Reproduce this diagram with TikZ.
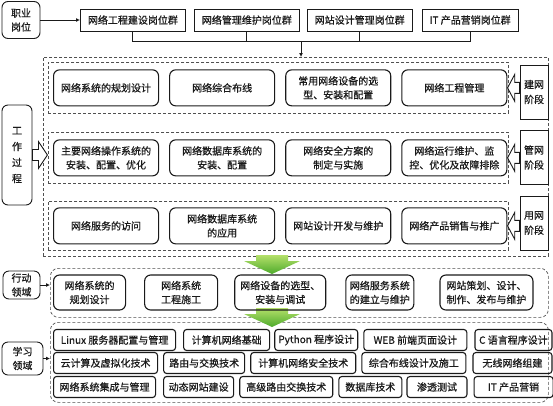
\documentclass[tikz,border=0pt]{standalone}
\usepackage{fontspec}
\setmainfont{Noto Sans CJK SC}[FakeBold=0.6]
\usetikzlibrary{positioning, arrows.meta, calc}
\definecolor{ink}{HTML}{1A1A1A}
\definecolor{dashgray}{HTML}{505050}
\definecolor{leaf}{HTML}{B4E06A}
\definecolor{grass}{HTML}{4DAA2B}
\newcommand{\hollowarrow}[3]{%
  \draw[hollow, shift={(#1)}, xscale=#2]
    (0,-5.5) -- ({0.4*#3},-5.5) -- ({0.4*#3},-13.5) -- (#3,0)
    -- ({0.4*#3},13.5) -- ({0.4*#3},5.5) -- (0,5.5) -- cycle;}
\newcommand{\greenarrow}[1]{%
  \shade[top color=leaf, bottom color=grass, shift={(#1)}]
    (-16,0) -- (16,0) -- (16,6) -- (28,6) -- (0,19) -- (-28,6) -- (-16,6) -- cycle;}

\begin{document}
\begin{tikzpicture}[
    x=1pt, y=-1pt,
    every node/.style={font=\fontsize{10}{14}\selectfont, text=ink, align=center},
    tag/.style={draw=ink, line width=0.9pt, rounded corners=6pt, inner sep=2pt},
    post/.style={draw=ink, line width=0.9pt, minimum height=22pt, inner sep=1pt},
    zone/.style={draw=dashgray, line width=0.7pt, dash pattern=on 3pt off 2pt},
    stage/.style={draw=ink, line width=0.9pt, minimum width=28pt, minimum height=54pt,
      inner sep=0pt, font=\fontsize{10}{15}\selectfont},
    task/.style={draw=ink, line width=1.1pt, rounded corners=6pt,
      minimum width=105pt, minimum height=36pt, inner sep=1pt},
    field/.style={draw=ink, line width=1.1pt, rounded corners=6pt, minimum height=35pt, inner sep=1pt},
    course/.style={draw=ink, line width=1.1pt, rounded corners=3pt, minimum height=21pt, inner sep=1pt},
    link/.style={draw=ink, line width=1pt},
    arrow/.style={-{Latex[length=4pt, width=4pt]}, ink, line width=1pt},
    hollow/.style={draw=ink, fill=white, line width=0.9pt, line join=miter}
]
  \useasboundingbox (0,0) rectangle (553,405);

  \node[tag, minimum width=38pt, minimum height=37pt] (zhiye) at (21,20) {职业\\岗位};
  \node[post, minimum width=105pt, anchor=west] (job1) at (80,20) {网络工程建设岗位群};
  \node[post, minimum width=105pt, right=8pt of job1] (job2) {网络管理维护岗位群};
  \node[post, minimum width=105pt, right=7pt of job2] (job3) {网站设计管理岗位群};
  \node[post, minimum width=96pt, right=9pt of job3] (job4) {IT 产品营销岗位群};
  \coordinate (bus) at (301,41);

  \node[zone, minimum width=505pt, minimum height=199pt, anchor=north west] (work) at (43,57) {};
  \node[zone, minimum width=460pt, minimum height=51pt, anchor=north west] (jianzone) at (48,62) {};
  \node[zone, minimum width=460pt, minimum height=51pt, anchor=north west] (guanzone) at (48,132) {};
  \node[zone, minimum width=460pt, minimum height=49pt, anchor=north west] (yongzone) at (48,201) {};

  \node[task, right=5pt of jianzone.west] (j1) {网络系统的规划设计};
  \node[task, right=10pt of j1] (j2) {网络综合布线};
  \node[task, right=10pt of j2] (j3) {常用网络设备的选\\型、安装和配置};
  \node[task, right=10pt of j3] (j4) {网络工程管理};

  \node[task, right=5pt of guanzone.west] (g1) {主要网络操作系统的\\安装、配置、优化};
  \node[task, right=10pt of g1] (g2) {网络数据库系统的\\安装、配置};
  \node[task, right=10pt of g2] (g3) {网络安全方案的\\制定与实施};
  \node[task, right=10pt of g3] (g4) {网络运行维护、监\\控、优化及故障排除};

  \node[task, right=5pt of yongzone.west] (y1) {网络服务的访问};
  \node[task, right=10pt of y1] (y2) {网络数据库系统\\的应用};
  \node[task, right=10pt of y2] (y3) {网站设计开发与维护};
  \node[task, right=10pt of y3] (y4) {网络产品销售与推广};

  \node[stage] (jian) at (534,92) {建网\\阶段};
  \node[stage] (guan) at (534,157.5) {管网\\阶段};
  \node[stage] (yong) at (534,223) {用网\\阶段};

  \node[tag, minimum width=30pt, minimum height=100pt, font=\fontsize{10}{16}\selectfont] (gongzuo) at (17,155) {工\\作\\过\\程};

  \node[tag, minimum width=37pt, minimum height=28pt] (xingdong) at (21.5,285) {行动\\领域};
  \node[zone, rounded corners=8pt, minimum width=498pt, minimum height=49pt, anchor=north west] (action) at (50,268) {};

  \node[tag, minimum width=41pt, minimum height=33pt] (xuexi) at (22.5,358.5) {学习\\领域};
  \node[zone, rounded corners=8pt, minimum width=498pt, minimum height=80pt, anchor=north west] (study) at (50,322) {};

  \greenarrow{272,255}
  \greenarrow{272,308}

  \node[field, minimum width=72pt, anchor=west] (a1) at (53,292.5) {网络系统的\\规划设计};
  \node[field, minimum width=73pt, right=18pt of a1] (a2) {网络系统\\工程施工};
  \node[field, minimum width=91pt, right=16pt of a2] (a3) {网络设备的选型、\\安装与调试};
  \node[field, minimum width=68pt, right=19pt of a3] (a4) {网络服务系统\\的建立与维护};
  \node[field, minimum width=93pt, right=25pt of a4] (a5) {网站策划、设计、\\制作、发布与维护};

  \node[course, minimum width=122pt, anchor=west] (c11) at (53,340) {Linux 服务器配置与管理};
  \node[course, minimum width=86pt, right=7pt of c11] (c12) {计算机网络基础};
  \node[course, minimum width=83pt, right=4pt of c12] (c13) {Python 程序设计};
  \node[course, minimum width=103pt, right=5pt of c13] (c14) {WEB 前端页面设计};
  \node[course, minimum width=77pt, right=7pt of c14] (c15) {C 语言程序设计};

  \node[course, minimum width=104pt, anchor=west] (c21) at (53,363) {云计算及虚拟化技术};
  \node[course, minimum width=81pt, right=5pt of c21] (c22) {路由与交换技术};
  \node[course, minimum width=105pt, right=5pt of c22] (c23) {计算机网络安全技术};
  \node[course, minimum width=104pt, right=5pt of c23] (c24) {综合布线设计及施工};
  \node[course, minimum width=79pt, right=6pt of c24] (c25) {无线网络组建};

  \node[course, minimum width=102pt, anchor=west] (c31) at (53,387) {网络系统集成与管理};
  \node[course, minimum width=70pt, right=7pt of c31] (c32) {动态网站建设};
  \node[course, minimum width=93pt, right=5pt of c32] (c33) {高级路由交换技术};
  \node[course, minimum width=63pt, right=5pt of c33] (c34) {数据库技术};
  \node[course, minimum width=60pt, right=4pt of c34] (c35) {渗透测试};
  \node[course, minimum width=79pt, right=6pt of c35] (c36) {IT 产品营销};

  \draw[arrow] (zhiye) -- (job1);
  \draw[link] (job1.south) -- (job1.south |- bus) -| (job4.south);
  \draw[link] (job2.south) -- (job2.south |- bus);
  \draw[link] (job3.south) -- (job3.south |- bus);
  \draw[arrow] (bus) -- (bus |- work.north);

  \hollowarrow{gongzuo.east}{1}{15}
  \hollowarrow{jian.west |- jianzone.east}{-1}{12}
  \hollowarrow{guan.west |- guanzone.east}{-1}{12}
  \hollowarrow{yong.west |- yongzone.east}{-1}{12}

  \draw[arrow] (xingdong.east) -- (xingdong.east -| action.west);
  \draw[arrow] (xuexi.east) -- (xuexi.east -| study.west);
\end{tikzpicture}
\end{document}
